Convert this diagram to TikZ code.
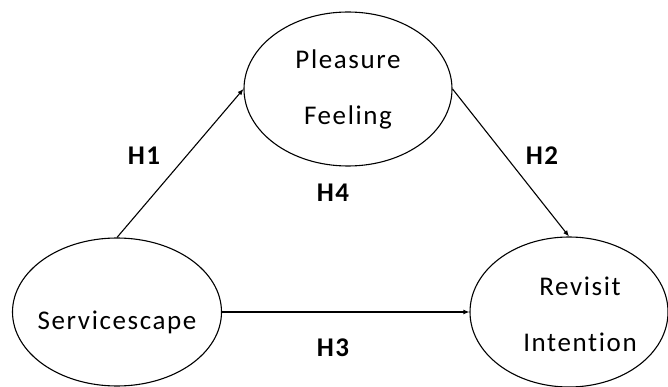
\documentclass[tikz,border=0pt]{standalone}
\usepackage{fontspec}
\setmainfont{Carlito}[LetterSpace=6,Ligatures={NoCommon,NoContextual}]
\usetikzlibrary{shapes.geometric,arrows.meta}

\begin{document}
\begin{tikzpicture}[x=1pt,y=-1pt,>={Latex[length=6pt,width=5pt]},line width=1.1pt,
  construct/.style={draw, ellipse, inner sep=0pt, align=center, font=\fontsize{27}{56}\selectfont},
  hyp/.style={font=\fontsize{27}{30}\selectfont\bfseries}]
  \useasboundingbox (0,0) rectangle (668,387);

  % constructs
  \node[construct, minimum width=208pt, minimum height=154pt] (PF) at (348,89) {Pleasure\\Feeling};
  \node[construct, minimum width=209pt, minimum height=148pt,
        label={[align=center, font=\fontsize{27}{56}\selectfont, yshift=-10pt]center:Servicescape}] (SC) at (117,312) {};
  \node[construct, minimum width=198pt, minimum height=150pt,
        label={[align=center, font=\fontsize{27}{56}\selectfont, xshift=11pt, yshift=-2pt]center:Revisit\\Intention}] (RI) at (569,312) {};

  % paths
  \draw[->] (SC.north) -- (PF.west);
  \draw[->] (PF.east) -- (RI.north);
  \draw[->] (SC.east) -- (RI.west);

  % hypotheses
  \node[hyp] (H1) at (144,156) {H1};
  \node[hyp] (H2) at (542,156) {H2};
  \node[hyp] (H4) at (333,193) {H4};
  \node[hyp] (H3) at (333,348) {H3};
\end{tikzpicture}
\end{document}
